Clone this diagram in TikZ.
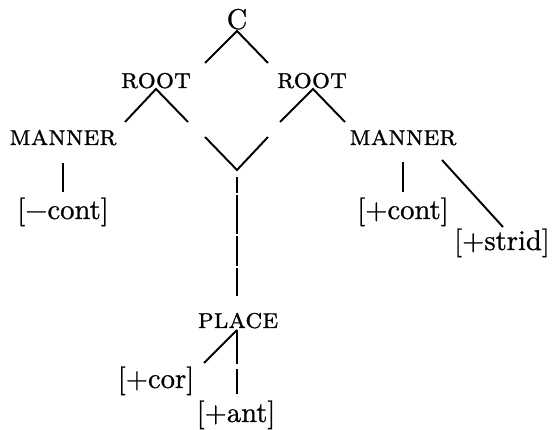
\documentclass[tikz,border=0pt]{standalone}
\usepackage{fontspec}
\newfontfamily\heavyrm{lmroman10-regular.otf}[FakeBold=0.8]
\newfontfamily\heavysc{lmromancaps10-regular.otf}[FakeBold=0.8]
\begin{document}
\begin{tikzpicture}[x=0.36pt,y=-0.36pt,
  lbl/.style={inner sep=0pt, anchor=base, font=\fontsize{10.3}{12}\heavyrm},
  sclbl/.style={inner sep=0pt, anchor=base, font=\fontsize{10.3}{12}\heavysc},
  br/.style={line width=0.7pt},
  line cap=butt]
\useasboundingbox (0,0) rectangle (552,430);
% nodes
\node[lbl]   (C)       at (237,29)  {C};
\node[sclbl] (rootL)   at (156,88)  {root};
\node[sclbl] (rootR)   at (312,88)  {root};
\node[sclbl] (mannerL) at (63,145)  {manner};
\node[sclbl] (mannerR) at (403,145) {manner};
\node[lbl]   (negcont) at (63,219)  {[−cont]};
\node[lbl]   (poscont) at (403,219) {[+cont]};
\node[lbl]   (strid)   at (502,250) {[+strid]};
\node[sclbl] (place)   at (238,328) {place};
\node[lbl]   (cor)     at (156,388) {[+cor]};
\node[lbl]   (ant)     at (236,422) {[+ant]};
% free ends
\coordinate (Ctop)  at (237,31);
\coordinate (cL)    at (205,63);
\coordinate (cR)    at (268,63);
\coordinate (rLtop) at (156,89);
\coordinate (rLL)   at (125,122);
\coordinate (rLR)   at (188,122);
\coordinate (rRtop) at (313,89);
\coordinate (rRL)   at (280,122);
\coordinate (rRR)   at (345,122);
\coordinate (vL)    at (205,137);
\coordinate (vB)    at (237,170);
\coordinate (vR)    at (268,137);
\coordinate (pT)    at (237,177);
\coordinate (pB)    at (237,296);
\coordinate (mLt)   at (63,163);
\coordinate (mLb)   at (63,192);
\coordinate (mRt)   at (403,162);
\coordinate (mRb)   at (403,192);
\coordinate (sT)    at (442,160);
\coordinate (sB)    at (503,227);
\coordinate (plT)   at (237,330);
\coordinate (corE)  at (204,363);
\coordinate (antE)  at (237,394);
% connectors
\draw[br] (cL) -- (Ctop) -- (cR);
\draw[br] (rLL) -- (rLtop) -- (rLR);
\draw[br] (rRL) -- (rRtop) -- (rRR);
\draw[br] (vL) -- (vB) -- (vR);
\draw[br, dash pattern=on 5.76pt off 0.72pt on 14.04pt off 0.72pt on 10.8pt off 0.72pt on 10.08pt off 10pt] (pT) -- (pB);
\draw[br] (mLt) -- (mLb);
\draw[br] (mRt) -- (mRb);
\draw[br] (sT) -- (sB);
\draw[br] (plT) -- (corE);
\draw[br, dash pattern=on 12.24pt off 1.8pt on 9pt off 5pt] (plT) -- (antE);
\end{tikzpicture}
\end{document}
